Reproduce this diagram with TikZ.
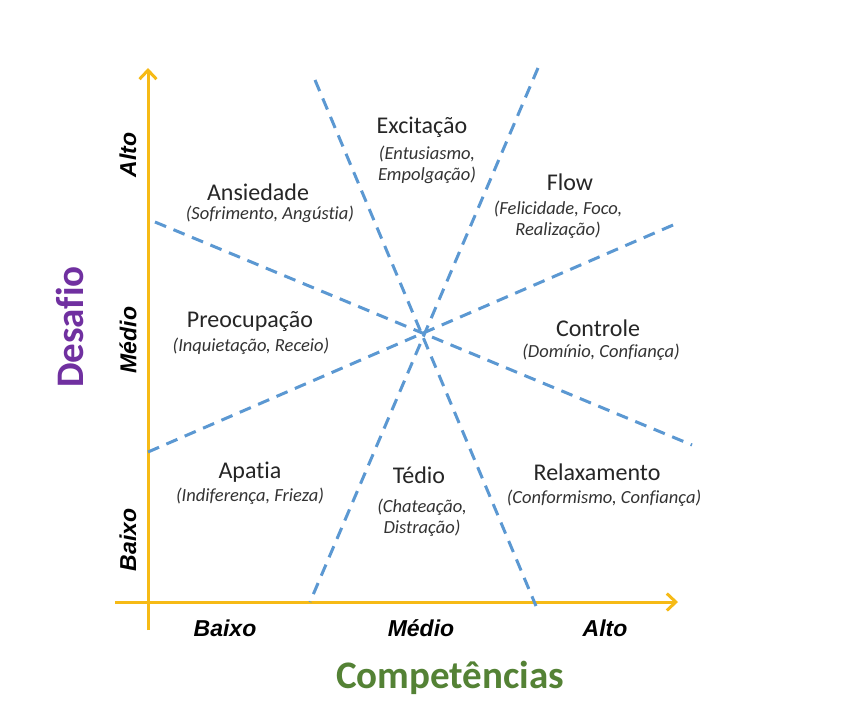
\documentclass[tikz,border=0pt]{standalone}
\usepackage{fontspec}
\setmainfont{Carlito}[Ligatures=NoCommon]
\newfontfamily\axisfont{Liberation Sans}
\usetikzlibrary{arrows.meta, positioning}
\definecolor{axisgold}{RGB}{246,186,22}
\definecolor{dashblue}{RGB}{91,152,210}
\definecolor{desafiopurple}{RGB}{112,48,160}
\definecolor{compgreen}{RGB}{84,130,53}

\begin{document}
\begin{tikzpicture}[x=1pt, y=-1pt,
    zone/.style={font=\fontsize{24}{27}\selectfont, text=black!85, inner sep=0pt},
    hint/.style={font=\itshape\fontsize{18.5}{21}\selectfont, text=black!80, align=center, inner sep=0pt},
    level/.style={font=\axisfont\bfseries\itshape\fontsize{23}{26}\selectfont, inner sep=0pt},
    axis/.style={draw=axisgold, line width=3pt, -{Straight Barb[length=9pt, width=17pt]}},
    split/.style={draw=dashblue, line width=3pt, dash pattern=on 12pt off 8pt}
]
\useasboundingbox[fill=white] (0,0) rectangle (842,710);

% eixos
\coordinate (yfoot) at (148,630);
\coordinate (ytip) at (148,68);
\coordinate (xfoot) at (115,602);
\coordinate (xtip) at (678,602);
\draw[axis] (yfoot) -- (ytip);
\draw[axis] (xfoot) -- (xtip);

% retas tracejadas
\coordinate (a1) at (315,80);
\coordinate (a2) at (536,606);
\coordinate (b1) at (538,68);
\coordinate (b2) at (310,602);
\coordinate (c1) at (155,222);
\coordinate (c2) at (692,445);
\coordinate (d1) at (148,452);
\coordinate (d2) at (680,222);
\draw[split] (a1) -- (a2);
\draw[split] (b1) -- (b2);
\draw[split] (c1) -- (c2);
\draw[split] (d1) -- (d2);

% estados
\node[zone] (excit) at (422,127) {Excitação};
\node[hint] (excith) at (427,165) {(Entusiasmo,\\Empolgação)};
\node[zone] (ansied) at (258,192) {Ansiedade};
\node[hint] (ansiedh) at (270,214) {(Sofrimento, Angústia)};
\node[zone] (flow) at (570,182) {Flow};
\node[hint] (flowh) at (558,220) {(Felicidade, Foco,\\Realização)};
\node[zone] (preoc) at (250,321) {Preocupação};
\node[hint] (preoch) at (251,346) {(Inquietação, Receio)};
\node[zone] (contr) at (598,328) {Controle};
\node[hint] (contrh) at (601,352) {(Domínio, Confiança)};
\node[zone] (apat) at (250,472) {Apatia};
\node[hint] (apath) at (250,496) {(Indiferença, Frieza)};
\node[zone] (tedio) at (419,475) {Tédio};
\node[hint] (tedioh) at (422,518) {(Chateação,\\Distração)};
\node[zone] (relax) at (597,472) {Relaxamento};
\node[hint] (relaxh) at (604,498) {(Conformismo, Confiança)};

% níveis
\node[level, rotate=90] (yalto) at (128,155) {Alto};
\node[level, rotate=90] (ymedio) at (128,340) {Médio};
\node[level, rotate=90] (ybaixo) at (128,540) {Baixo};
\node[level] (xbaixo) at (225,628) {Baixo};
\node[level] (xmedio) at (421,628) {Médio};
\node[level] (xalto) at (605,628) {Alto};

% títulos
\node[rotate=90, font=\bfseries\fontsize{39}{41}\selectfont, text=desafiopurple] (desafio) at (70,327) {Desafio};
\node[font=\bfseries\fontsize{39}{41}\selectfont, text=compgreen] (comp) at (450,678) {Competências};
\end{tikzpicture}
\end{document}
